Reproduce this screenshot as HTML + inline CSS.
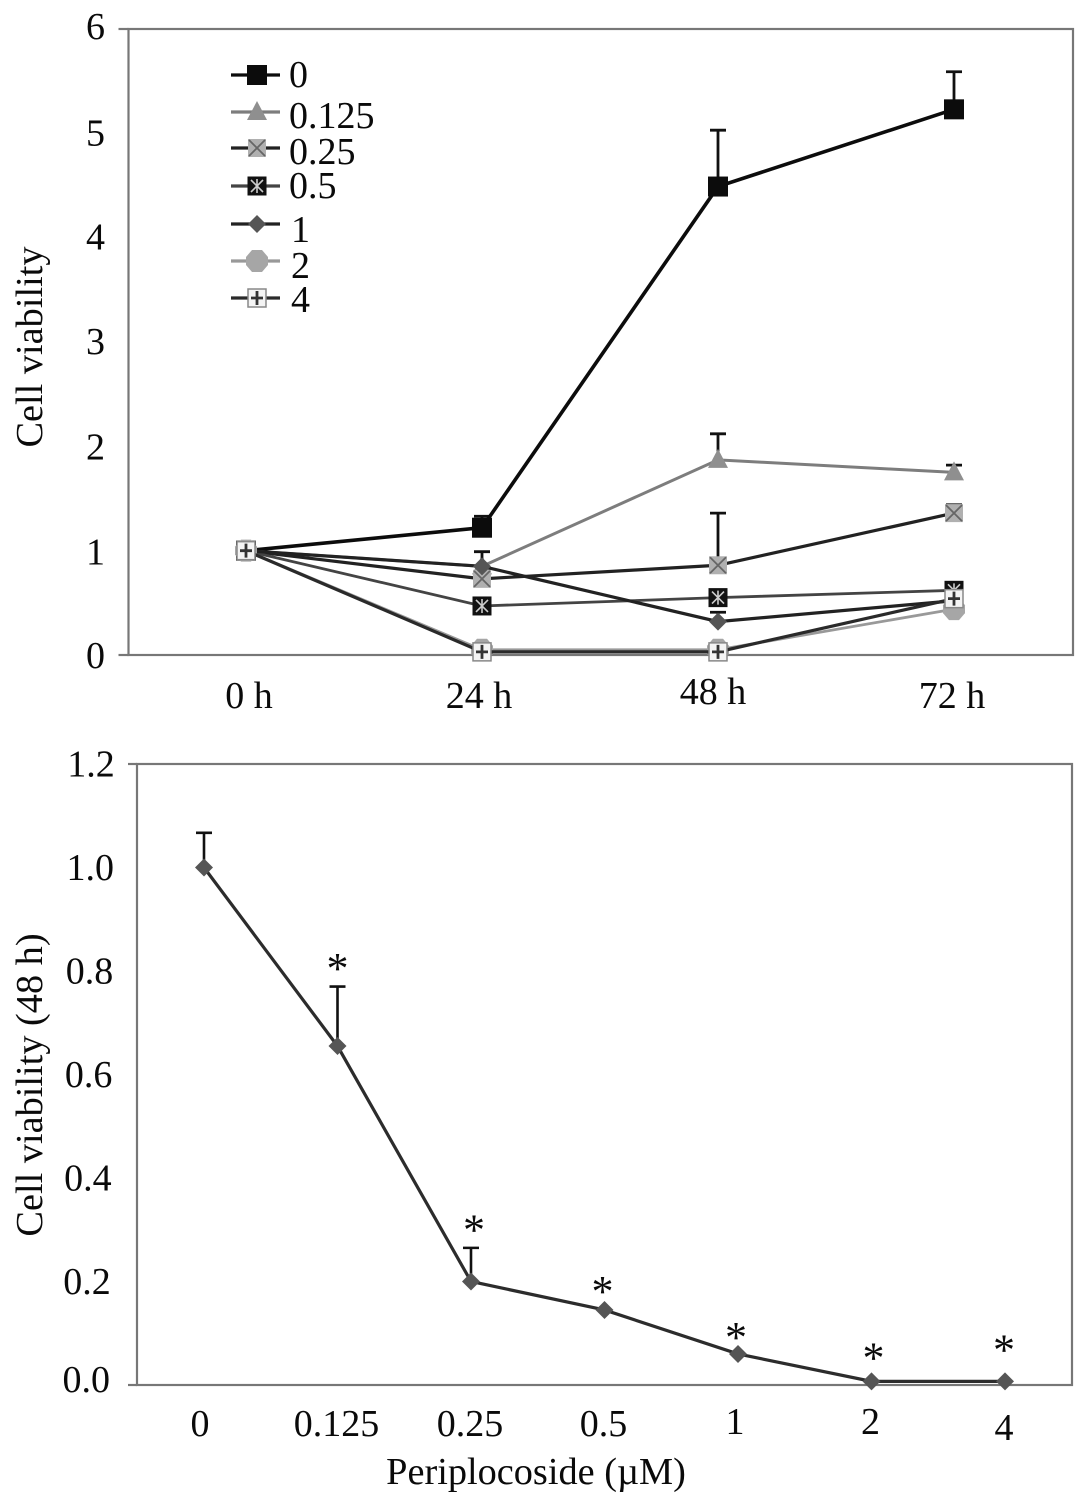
<!DOCTYPE html>
<html lang="en">
<head>
<meta charset="utf-8">
<title>Cell viability charts</title>
<style>
  html, body { margin: 0; padding: 0; background: #fff; }
  svg { display: block; filter: blur(0.35px); }
  text { font-family: "Liberation Serif", serif; fill: #0a0a0a; font-size: 38px; }
  .axis-title { font-size: 38.3px; }
  .star-label { font-size: 44px; }
</style>
</head>
<body>
<svg id="figure" width="1087" height="1505" viewBox="0 0 1087 1505" xmlns="http://www.w3.org/2000/svg">
  <rect width="1087" height="1505" fill="#fff"/>
  <g id="top-chart">
    <text class="axis-title" transform="translate(42,347) rotate(-90)" text-anchor="middle">Cell viability</text>
  </g>
  <g id="bottom-chart">
    <text class="axis-title" transform="translate(42,1085) rotate(-90)" text-anchor="middle">Cell viability (48 h)</text>
    <text class="axis-title" x="536" y="1484" text-anchor="middle">Periplocoside (µM)</text>
  </g>
</svg>
<script>
// ---- Top chart data ----
const timeCategories = ['0 h', '24 h', '48 h', '72 h'];
const topTickLabels = ['0', '1', '2', '3', '4', '5', '6'];
const doseNames = ['0', '0.125', '0.25', '0.5', '1', '2', '4'];
const seriesDose0 = [1, 1.22, 4.49, 5.23];
const seriesDose0125 = [1, 0.85, 1.87, 1.75];
const seriesDose025 = [1, 0.73, 0.86, 1.36];
const seriesDose05 = [1, 0.47, 0.55, 0.62];
const seriesDose1 = [1, 0.85, 0.32, 0.52];
const seriesDose2 = [1, 0.05, 0.05, 0.44];
const seriesDose4 = [1, 0.03, 0.03, 0.54];
const errorDose0 = [0.07, 0.11, 0.54, 0.36];
const errorDose0125 = [0, 0, 0.25, 0.07];
const errorDose025 = [0, 0, 0.5, 0.08];
const errorDose05 = [0, 0, 0.03, 0.05];
const errorDose1 = [0, 0.14, 0.09, 0];
const errorDose2 = [0, 0, 0, 0];
const errorDose4 = [0, 0, 0, 0];

// ---- Bottom chart data ----
const doseCategories = ['0', '0.125', '0.25', '0.5', '1', '2', '4'];
const bottomTickLabels = ['0.0', '0.2', '0.4', '0.6', '0.8', '1.0', '1.2'];
const viability48h = [1.0, 0.655, 0.2, 0.145, 0.06, 0.007, 0.007];
const viabilityError = [0.067, 0.115, 0.065, 0, 0, 0, 0];
const significance = ['', '*', '*', '*', '*', '*', '*'];

// ---- Axis functions ----
const topY = v => 655 - v * (626 / 6);
const topX = i => 246 + i * 236;
const botY = v => 1385 - v * (621 / 1.2);
const botX = i => 204 + i * (801 / 6);

const NS = 'http://www.w3.org/2000/svg';
function make(tag, attrs, parent) {
  const node = document.createElementNS(NS, tag);
  for (const k in attrs) node.setAttribute(k, attrs[k]);
  parent.appendChild(node);
  return node;
}
const topGroup = document.getElementById('top-chart');
const botGroup = document.getElementById('bottom-chart');

function frame(parent, x0, y0, x1, y1, tick) {
  const r = make('rect', { x: x0, y: y0, width: x1 - x0, height: y1 - y0, fill: 'none', stroke: '#777', 'stroke-width': 2.2 }, parent);
  
  
  const t = make('line', { x1: x0 - tick, x2: x0, y1: y1, y2: y1, stroke: '#777', 'stroke-width': 2.2 }, parent);
  
  
  const t2 = make('line', { x1: x0 - tick, x2: x0, y1: y0, y2: y0, stroke: '#777', 'stroke-width': 2.2 }, parent);
  
  
}
frame(topGroup, 128.5, 29, 1073, 655, 10);
frame(botGroup, 137, 764, 1072, 1385, 9);

function marker(parent, kind, cx, cy, scale) {
  const s = scale || 1;
  const g = make('g', { transform: 'translate(' + cx + ',' + cy + ') scale(' + s + ')' }, parent);
  if (kind === 'square') {
    make('rect', { x: -10, y: -10, width: 20, height: 20, fill: '#0c0c0c' }, g);
  } else if (kind === 'triangle') {
    make('path', { d: 'M0,-11 L10,8 L-10,8 Z', fill: '#8f8f8f' }, g);
  } else if (kind === 'xbox') {
    make('rect', { x: -9, y: -9, width: 18, height: 18, fill: '#b0b0b0' }, g);
    make('path', { d: 'M-8,-8 L8,8 M8,-8 L-8,8', stroke: '#666', 'stroke-width': 1.8, fill: 'none' }, g);
  } else if (kind === 'star') {
    make('rect', { x: -9.5, y: -9.5, width: 19, height: 19, fill: '#111' }, g);
    make('path', { d: 'M-6,-6 L6,6 M6,-6 L-6,6 M0,-7 L0,7', stroke: '#ccc', 'stroke-width': 1.6, fill: 'none' }, g);
  } else if (kind === 'diamond') {
    make('path', { d: 'M0,-9 L9,0 L0,9 L-9,0 Z', fill: '#555' }, g);
  } else if (kind === 'octagon') {
    make('path', { d: 'M-5,-11 L5,-11 L11,-4 L11,4 L5,11 L-5,11 L-11,4 L-11,-4 Z', fill: '#a6a6a6' }, g);
  } else {
    make('rect', { x: -9, y: -9, width: 18, height: 18, fill: '#f4f4f4', stroke: '#888', 'stroke-width': 1.5 }, g);
    make('path', { d: 'M-6,0 L6,0 M0,-7 L0,7', stroke: '#333', 'stroke-width': 2.8, fill: 'none' }, g);
  }
  return g;
}

// ---- Top chart ----
const topTickNudge = [1, 2, 1, 0, 0, 0, -2];
topTickLabels.forEach((label, i) => {
  const t = make('text', { x: 105, y: topY(+label) + 12 + topTickNudge[i], 'text-anchor': 'end' }, topGroup);
  t.textContent = label;
  
  
});
const topLabelLift = [0, 0, 4, 0];
const topLabelShift = [3, -3, -5, -2];
timeCategories.forEach((label, i) => {
  const t = make('text', { x: topX(i) + topLabelShift[i], y: 708 - topLabelLift[i], 'text-anchor': 'middle' }, topGroup);
  t.textContent = label;
  
  
});

const seriesValues = [seriesDose0, seriesDose0125, seriesDose025, seriesDose05, seriesDose1, seriesDose2, seriesDose4];
const seriesErrors = [errorDose0, errorDose0125, errorDose025, errorDose05, errorDose1, errorDose2, errorDose4];
const lineColors = ['#0c0c0c', '#7d7d7d', '#222', '#444', '#222', '#999', '#2a2a2a'];
const lineWidths = [3.6, 3, 3.2, 2.8, 3.2, 2.8, 3.2];
const markerKinds = ['square', 'triangle', 'xbox', 'star', 'diamond', 'octagon', 'plus'];
const markerScales = [1, 1, 1, 1, 1, 1, 1];

seriesValues.forEach((vals, s) => {
  const g = make('g', {}, topGroup);
  
  
  vals.forEach((v, i) => {
    const e = seriesErrors[s][i];
    if (e > 0) {
      const bar = make('path', {
        d: 'M' + topX(i) + ',' + topY(v) + ' L' + topX(i) + ',' + topY(v + e) +
           ' M' + (topX(i) - 8) + ',' + topY(v + e) + ' L' + (topX(i) + 8) + ',' + topY(v + e),
        stroke: '#111', 'stroke-width': 2.8, fill: 'none'
      }, g);
      
      
    }
  });
  const line = make('polyline', {
    points: vals.map((v, i) => topX(i) + ',' + topY(v)).join(' '),
    fill: 'none', stroke: lineColors[s], 'stroke-width': lineWidths[s]
  }, g);
  
  
  vals.forEach((v, i) => {
    const m = marker(g, markerKinds[s], topX(i), topY(v), markerScales[s]);
    
    
  });
});

// ---- Legend ----
const legendHandleYs = [75, 112, 148, 186, 224, 261, 298];
const legendTextYs = [87, 128, 164, 198, 242, 278, 312];
const legendTextXs = [289, 289, 289, 289, 291, 291, 291];
const legend = make('g', {}, topGroup);


doseNames.forEach((name, s) => {
  const g = make('g', {}, legend);
  
  
  make('line', { x1: 231, x2: 280, y1: legendHandleYs[s], y2: legendHandleYs[s], stroke: lineColors[s], 'stroke-width': 3.2 }, g);
  marker(g, markerKinds[s], 257, legendHandleYs[s], 1);
  const t = make('text', { x: legendTextXs[s], y: legendTextYs[s] }, g);
  t.textContent = name;
  
  
});

// ---- Bottom chart ----
bottomTickLabels.forEach(label => {
  const v = +label;
  const t = make('text', { x: 110 + v * 4, y: botY(v) + (v === 0 ? 7 : 12.5), 'text-anchor': 'end' }, botGroup);
  t.textContent = label;
  
  
});
const bottomLabelLift = [0, 0, 0, 0, -2, -2, 4];
const bottomLabelShift = [-4, -1, -1, -1, -3, -1, -1];
doseCategories.forEach((label, i) => {
  const t = make('text', { x: botX(i) + bottomLabelShift[i], y: 1436 + bottomLabelLift[i], 'text-anchor': 'middle' }, botGroup);
  t.textContent = label;
  
  
});
viability48h.forEach((v, i) => {
  const e = viabilityError[i];
  if (e > 0) {
    const bar = make('path', {
      d: 'M' + botX(i) + ',' + botY(v) + ' L' + botX(i) + ',' + botY(v + e) +
         ' M' + (botX(i) - 8) + ',' + botY(v + e) + ' L' + (botX(i) + 8) + ',' + botY(v + e),
      stroke: '#111', 'stroke-width': 2.6, fill: 'none'
    }, botGroup);
    
    
  }
});
const doseLine = make('polyline', {
  points: viability48h.map((v, i) => botX(i) + ',' + botY(v)).join(' '),
  fill: 'none', stroke: '#2c2c2c', 'stroke-width': 3.2
}, botGroup);


const asteriskGap = [0, 81, 55, 22, 20, 27, 35];
const asteriskShift = [0, 0, 3, -2, -2, 2, -1];
viability48h.forEach((v, i) => {
  const m = marker(botGroup, 'diamond', botX(i), botY(v), 1);
  
  
  if (significance[i]) {
    const t = make('text', { class: 'star-label', x: botX(i) + asteriskShift[i], y: botY(v) - asteriskGap[i] + 18, 'text-anchor': 'middle' }, botGroup);
    t.textContent = significance[i];
    
    
  }
});
</script>
</body>
</html>
